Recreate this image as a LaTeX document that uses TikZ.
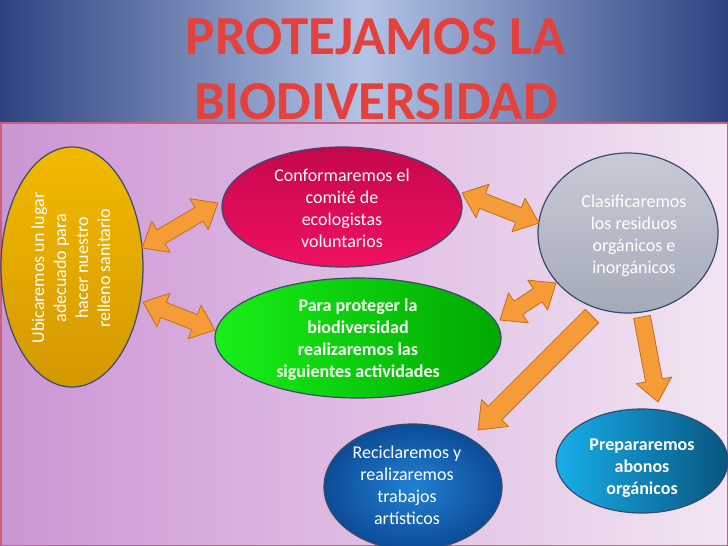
\documentclass[tikz,border=0pt]{standalone}
\usepackage{fontspec}
\setmainfont{Carlito}
\usetikzlibrary{shapes.geometric,calc}
\definecolor{bandedge}{HTML}{2E4280}
\definecolor{bandmid}{HTML}{B3C4E6}
\definecolor{lowleft}{HTML}{CC95D4}
\definecolor{lowright}{HTML}{F2E5F2}
\definecolor{frame}{HTML}{C8607E}
\definecolor{blobline}{HTML}{3A4A6E}
\definecolor{arrfill}{HTML}{F59B38}
\definecolor{arrline}{HTML}{C46E1A}
\definecolor{titlered}{HTML}{E4403C}
\definecolor{yeltop}{HTML}{F2BA00}
\definecolor{yelbot}{HTML}{D39800}
\definecolor{magtop}{HTML}{C4084C}
\definecolor{magbot}{HTML}{F01062}
\definecolor{grnleft}{HTML}{18F018}
\definecolor{grnright}{HTML}{00A800}
\definecolor{grytop}{HTML}{C8CBD6}
\definecolor{grybot}{HTML}{A5AABA}
\definecolor{prepleft}{HTML}{18AEEA}
\definecolor{prepright}{HTML}{08557F}
\definecolor{recin}{HTML}{2280D2}
\definecolor{recout}{HTML}{0C4C98}
\newcommand\dblarr[5]{%
  \draw[arrsty] (#1) -- ($(#1)!#5!(#2)!#4!90:(#2)$) -- ($(#1)!#5!(#2)!#3!90:(#2)$)
   -- ($(#2)!#5!(#1)!#3!90:(#2)$) -- ($(#2)!#5!(#1)!#4!90:(#2)$) -- (#2)
   -- ($(#2)!#5!(#1)!#4!-90:(#2)$) -- ($(#2)!#5!(#1)!#3!-90:(#2)$)
   -- ($(#1)!#5!(#2)!#3!-90:(#2)$) -- ($(#1)!#5!(#2)!#4!-90:(#2)$) -- cycle;}
\newcommand\sglarr[5]{%
  \draw[arrsty] ($(#1)!#3!90:(#2)$) -- ($(#2)!#5!(#1)!#3!90:(#2)$)
   -- ($(#2)!#5!(#1)!#4!90:(#2)$) -- (#2) -- ($(#2)!#5!(#1)!#4!-90:(#2)$)
   -- ($(#2)!#5!(#1)!#3!-90:(#2)$) -- ($(#1)!#3!-90:(#2)$) -- cycle;}
\begin{document}
\begin{tikzpicture}[x=1pt,y=-1pt,
  blob/.style={ellipse, draw=blobline, line width=1.2pt, inner sep=0pt},
  txt/.style={align=center, text=white, inner sep=0pt, font=\fontsize{18}{22}\selectfont},
  btxt/.style={txt, font=\fontsize{18}{22}\selectfont\bfseries},
  arrsty/.style={fill=arrfill, draw=arrline, line width=0.8pt, line join=round},
  titlesty/.style={inner sep=0pt, anchor=base, text=titlered, font=\fontsize{55}{55}\selectfont\bfseries}]
\useasboundingbox (0,0) rectangle (728,546);
% background
\shade[left color=bandedge, right color=bandedge, middle color=bandmid] (0,0) rectangle (728,123);
\shade[left color=lowleft, right color=lowright] (0,123) rectangle (728,546);
\draw[frame, line width=1.5pt] (0.75,123) rectangle (727.25,545.25);
% title
\node[titlesty] (t1) at (376,54) {PROTEJAMOS LA};
\node[titlesty] (t2) at (376,119) {BIODIVERSIDAD};
% ellipses
\node[blob, top color=yeltop, bottom color=yelbot, minimum width=142pt, minimum height=240pt] (yel) at (72,267) {};
\node[txt, rotate=90] (yeltxt) at (71,268) {Ubicaremos un lugar\\adecuado para\\hacer nuestro\\relleno sanitario};
\node[blob, top color=magtop, bottom color=magbot, minimum width=240pt, minimum height=120pt] (mag) at (342,207) {};
\node[txt] (magtxt) at (342,208) {Conformaremos el\\comité de\\ecologistas\\voluntarios};
\node[blob, left color=grnleft, right color=grnright, minimum width=286pt, minimum height=120pt] (grn) at (358,338) {};
\node[btxt] (grntxt) at (358,340) {Para proteger la\\biodiversidad\\realizaremos las\\siguientes actividades};
\node[blob, top color=grytop, bottom color=grybot, minimum width=180pt, minimum height=160pt] (gry) at (628,233) {};
\node[txt] (grytxt) at (634,236) {Clasificaremos\\los residuos\\orgánicos e\\inorgánicos};
\node[blob, left color=prepleft, right color=prepright, minimum width=172pt, minimum height=104pt] (prep) at (642,461) {};
\node[btxt] (preptxt) at (642,468) {Prepararemos\\abonos\\orgánicos};
\node[blob, inner color=recin, outer color=recout, minimum width=178pt, minimum height=126pt] (rec) at (413,487) {};
\node[txt] (rectxt) at (407,485) {Reciclaremos y\\realizaremos\\trabajos\\artísticos};
% arrow end points
\coordinate (a1) at (142,248); \coordinate (a2) at (218,203);
\coordinate (b1) at (143,302); \coordinate (b2) at (215,330);
\coordinate (c1) at (462,193); \coordinate (c2) at (539,223);
\coordinate (d1) at (500,320); \coordinate (d2) at (556,283);
\coordinate (e1) at (592,316); \coordinate (e2) at (478,430);
\coordinate (f1) at (642,317); \coordinate (f2) at (658,402);
\dblarr{a1}{a2}{8pt}{18pt}{22pt}
\dblarr{b1}{b2}{8pt}{18pt}{22pt}
\dblarr{c1}{c2}{8pt}{18pt}{22pt}
\dblarr{d1}{d2}{8pt}{18pt}{22pt}
\sglarr{e1}{e2}{9.5pt}{19pt}{24pt}
\sglarr{f1}{f2}{8.5pt}{18pt}{22pt}
\end{tikzpicture}
\end{document}
